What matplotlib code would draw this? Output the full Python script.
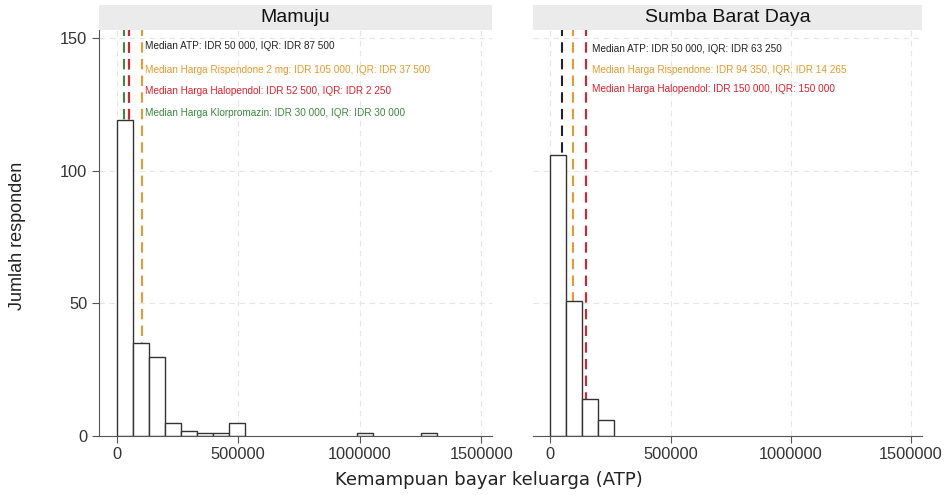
import matplotlib
matplotlib.use("Agg")
import matplotlib.pyplot as plt
from matplotlib.patches import Rectangle
import numpy as np

plt.rcParams['font.family'] = ['Liberation Sans', 'DejaVu Sans']

# Histogram data (bin width, counts per bin starting at 0)
bin_width = 66000
mamuju_counts = [119, 35, 30, 5, 2, 1, 1, 5, 0, 0, 0, 0, 0, 0, 0, 1, 0, 0, 0, 1]
sumba_counts = [106, 51, 14, 6]

panel_titles = ["Mamuju", "Sumba Barat Daya"]

mamuju_medians = [50000, 105000, 52500, 30000]
mamuju_labels = [
    "Median ATP: IDR 50 000, IQR: IDR 87 500",
    "Median Harga Rispendone 2 mg: IDR 105 000, IQR: IDR 37 500",
    "Median Harga Halopendol: IDR 52 500, IQR: IDR 2 250",
    "Median Harga Klorpromazin: IDR 30 000, IQR: IDR 30 000",
]
mamuju_colors = ["#222222", "#e89a2c", "#e0202c", "#3a8a3e"]

sumba_medians = [50000, 94350, 150000]
sumba_labels = [
    "Median ATP: IDR 50 000, IQR: IDR 63 250",
    "Median Harga Rispendone: IDR 94 350, IQR: IDR 14 265",
    "Median Harga Halopendol: IDR 150 000, IQR: 150 000",
]
sumba_colors = ["#222222", "#e89a2c", "#e0202c"]

xticks = [0, 500000, 1000000, 1500000]
yticks = [0, 50, 100, 150]

fig = plt.figure(figsize=(9.52, 4.95), dpi=100)
ax1 = fig.add_axes([0.104, 0.119, 0.413, 0.820])
ax2 = fig.add_axes([0.560, 0.119, 0.408, 0.820])

xlim = (-72000, 1545000)
ylim = (0, 153)
strip_h_px = 25

def draw(ax, counts, medians, labels, colors, text_x, text_ys, title, draw_order):
    edges = np.arange(len(counts) + 1) * bin_width
    ax.set_xlim(*xlim)
    ax.set_ylim(*ylim)
    for xt in xticks:
        ax.axvline(xt, color="#e6e6e6", lw=0.8, ls=(0, (5, 4)), zorder=0)
    for yt in yticks[1:]:
        ax.axhline(yt, color="#e6e6e6", lw=0.8, ls=(0, (5, 4)), zorder=0)
    for i in draw_order:
        ax.axvline(medians[i], color=colors[i], lw=1.5, ls=(0, (5, 3)), zorder=1)
    lefts = edges[:-1]
    heights = np.array(counts)
    mask = heights > 0
    ax.bar(lefts[mask], heights[mask], width=bin_width, align="edge",
           facecolor="white", edgecolor="#333333", linewidth=1.0, zorder=2)
    for lab, col, ty in zip(labels, colors, text_ys):
        ax.text(text_x, ty, lab, color=col, fontsize=7.2, va="center", ha="left", zorder=3)
    ax.set_xticks(xticks)
    ax.set_xticklabels([str(v) for v in xticks], fontsize=11.8, color="#333333")
    for s in ["top", "right"]:
        ax.spines[s].set_visible(False)
    ax.spines["bottom"].set_color("#555555")
    ax.spines["left"].set_color("#555555")
    ax.tick_params(axis="x", length=5, color="#555555", pad=3)
    # header strip
    pos = ax.get_position()
    h_ax = strip_h_px / (pos.height * 495)
    ax.add_patch(Rectangle((0, 1.0), 1.0, h_ax, transform=ax.transAxes,
                           facecolor="#ebebeb", edgecolor="none", clip_on=False, zorder=4))
    ax.text(0.5, 1.0 + h_ax / 2, title, transform=ax.transAxes, ha="center", va="center",
            fontsize=14, color="#111111", zorder=5, clip_on=False)

draw(ax1, mamuju_counts, mamuju_medians, mamuju_labels, mamuju_colors,
     116000, [146.9, 137.9, 130.0, 121.7], panel_titles[0], [0, 3, 1, 2])
draw(ax2, sumba_counts, sumba_medians, sumba_labels, sumba_colors,
     174000, [146.1, 137.9, 131.0], panel_titles[1], [0, 1, 2])

ax1.set_yticks(yticks)
ax1.set_yticklabels([str(v) for v in yticks], fontsize=11.8, color="#333333")
ax1.tick_params(axis="y", length=5, color="#555555")
ax2.set_yticks(yticks)
ax2.set_yticklabels([])
ax2.tick_params(axis="y", length=0)
ax2.spines["left"].set_visible(False)

fig.text(489 / 952, 1 - 480 / 495, "Kemampuan bayar keluarga (ATP)", ha="center", va="center",
         fontsize=13, color="#222222", family=["DejaVu Sans"])
fig.text(18 / 952, 1 - 236 / 495, "Jumlah responden", ha="center", va="center", rotation=90,
         fontsize=13, color="#222222")

fig.savefig("out.png", dpi=100)
